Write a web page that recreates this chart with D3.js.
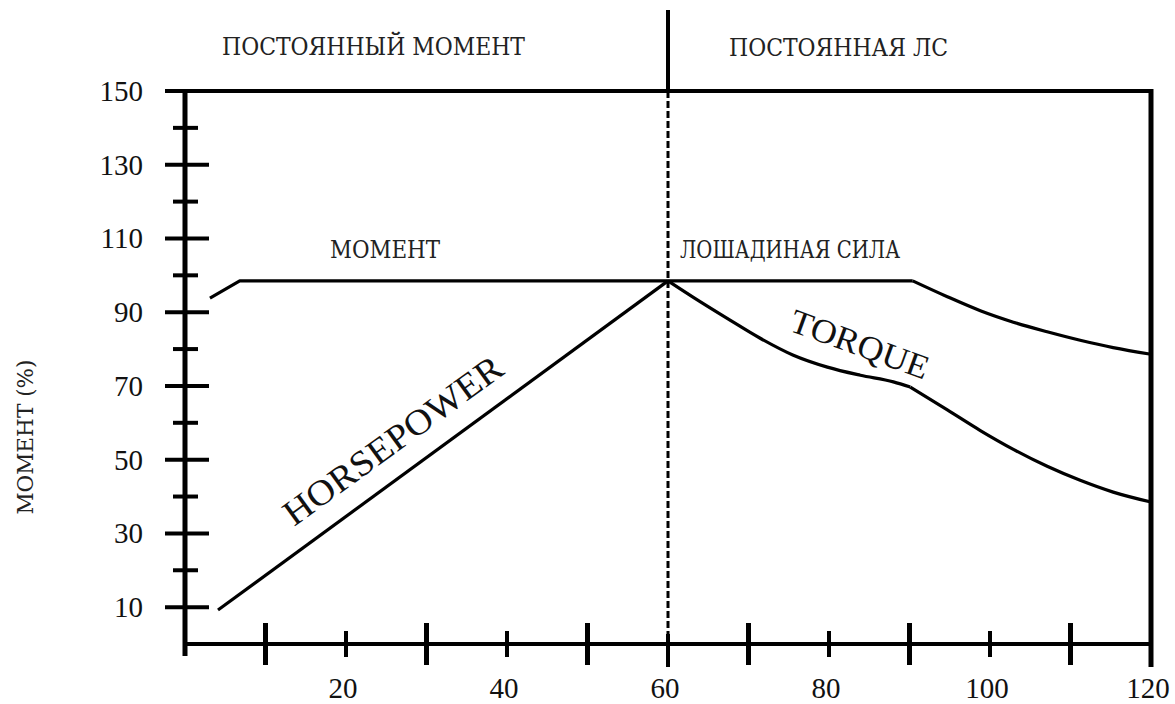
<!DOCTYPE html>
<html>
<head>
<meta charset="utf-8">
<script src="https://cdn.jsdelivr.net/npm/d3@7"></script>
<style>
  html, body { margin: 0; padding: 0; background: #fff; }
  svg { display: block; }
</style>
</head>
<body>
<svg id="chart" width="1175" height="704"></svg>
<script>
// ---- data ----
const xTickValues = [10, 20, 30, 40, 50, 60, 70, 80, 90, 100, 110, 120];
const xTickLabels = [20, 40, 60, 80, 100, 120];
const yTickValues = [10, 20, 30, 40, 50, 60, 70, 80, 90, 100, 110, 120, 130, 140];
const yTickLabels = [10, 30, 50, 70, 90, 110, 130, 150];
// upper line: flat section (constant torque region + constant power up to 90%)
const upperFlat = [[3.1, 93.8], [6.8, 98.5], [90.4, 98.5]];
const upperTail = [[90.4, 98.5], [94.7, 94.2], [98.8, 90.4], [102.9, 87.3], [107.1, 84.7], [111.2, 82.4], [115.3, 80.4], [120, 78.6]];
// horsepower rising line
const hpRise = [[4.1, 9.2], [60, 98.5]];
// torque falling curve beyond base speed
const torqueFallA = [[60, 98.5], [63.1, 94.1], [67.3, 88.4], [71.4, 83.0], [75.5, 78.4], [79.8, 75.1], [83.9, 72.9], [88.0, 71.1], [90.1, 69.7]];
const torqueFallB = [[90.1, 69.7], [94.7, 63.5], [98.8, 57.9], [102.9, 52.8], [107.1, 48.2], [111.2, 44.4], [115.3, 41.2], [120, 38.5]];
const baseSpeed = 60;
const regionLabels = ["ПОСТОЯННЫЙ МОМЕНТ", "ПОСТОЯННАЯ ЛС"];
const lineLabels = ["МОМЕНТ", "ЛОШАДИНАЯ СИЛА"];
const curveLabels = ["HORSEPOWER", "TORQUE"];
const yAxisTitle = "МОМЕНТ (%)";

// ---- scales ----
const x = d3.scaleLinear().domain([0, 120]).range([185, 1151]);
const y = d3.scaleLinear().domain([0, 150]).range([644, 91]);

const svg = d3.select("#chart");
const serif = "'Liberation Serif', 'Times New Roman', serif";
const slab = "'DejaVu Serif', 'Liberation Serif', serif";

// ---- frame ----
svg.append("line").attr("x1", 165).attr("x2", x(120) + 2).attr("y1", y(150)).attr("y2", y(150))
  .attr("stroke", "#000").attr("stroke-width", 4);
svg.append("line").attr("x1", x(120)).attr("x2", x(120)).attr("y1", y(150) - 2).attr("y2", 667)
  .attr("stroke", "#000").attr("stroke-width", 5);
svg.append("line").attr("x1", x(0)).attr("x2", x(0)).attr("y1", y(150) - 2).attr("y2", 656)
  .attr("stroke", "#000").attr("stroke-width", 5);
svg.append("line").attr("x1", x(0)).attr("x2", x(120)).attr("y1", y(0)).attr("y2", y(0))
  .attr("stroke", "#000").attr("stroke-width", 4);

// ---- y ticks ----
svg.selectAll(".yt").data(yTickValues).enter().append("line")
  .attr("x1", d => (d % 20 === 10) ? x(0) - 20 : x(0) - 12)
  .attr("x2", d => (d % 20 === 10) ? x(0) + 24 : x(0) + 13)
  .attr("y1", d => y(d)).attr("y2", d => y(d))
  .attr("stroke", "#000").attr("stroke-width", 4);

svg.selectAll(".yl").data(yTickLabels).enter().append("text")
  .attr("x", 143).attr("y", d => y(d) + 10)
  .attr("text-anchor", "end")
  .attr("font-family", serif).attr("font-size", 29)
  .attr("fill", "#111")
  .text(d => d);

// ---- x ticks ----
svg.selectAll(".xt").data(xTickValues.filter(d => d !== 120)).enter().append("line")
  .attr("x1", d => x(d)).attr("x2", d => x(d))
  .attr("y1", d => d === baseSpeed ? y(0) - 10 : (d % 20 === 10 ? y(0) - 21 : y(0) - 13))
  .attr("y2", d => d === baseSpeed ? 667 : (d % 20 === 10 ? y(0) + 21 : y(0) + 13))
  .attr("stroke", "#000").attr("stroke-width", d => d % 20 === 10 ? 5 : 4);

svg.selectAll(".xl").data(xTickLabels).enter().append("text")
  .attr("x", d => x(d) - 3).attr("y", 698)
  .attr("text-anchor", "middle")
  .attr("font-family", serif).attr("font-size", 29)
  .attr("fill", "#111")
  .text(d => d);

// ---- base speed divider ----
svg.append("line").attr("x1", x(baseSpeed)).attr("x2", x(baseSpeed)).attr("y1", 10).attr("y2", y(150))
  .attr("stroke", "#000").attr("stroke-width", 4);
svg.append("line").attr("x1", x(baseSpeed)).attr("x2", x(baseSpeed)).attr("y1", y(150)).attr("y2", y(0))
  .attr("stroke", "#000").attr("stroke-width", 3).attr("stroke-dasharray", "7,3");

// ---- curves ----
const lineLin = d3.line().x(d => x(d[0])).y(d => y(d[1]));
const lineSmooth = d3.line().x(d => x(d[0])).y(d => y(d[1])).curve(d3.curveMonotoneX);

[ [upperFlat, lineLin], [upperTail, lineSmooth], [hpRise, lineLin], [torqueFallA, lineSmooth], [torqueFallB, lineSmooth] ]
  .forEach(([data, gen]) => {
    svg.append("path").attr("d", gen(data))
      .attr("fill", "none").attr("stroke", "#000").attr("stroke-width", 3.2)
      .attr("stroke-linejoin", "round").attr("stroke-linecap", "butt");
  });

// ---- labels ----
function slabText(txt, xPos, yPos, len, size) {
  svg.append("text").attr("x", xPos).attr("y", yPos)
    .attr("font-family", slab).attr("font-size", size)
    .attr("fill", "#222")
    .attr("textLength", len).attr("lengthAdjust", "spacingAndGlyphs")
    .text(txt);
}
slabText(regionLabels[0], 222, 55, 303, 24);
slabText(regionLabels[1], 729, 56, 219, 24);
slabText(lineLabels[0], 330, 258, 110, 24);
slabText(lineLabels[1], 680, 258, 220, 24);

// y axis title
svg.append("text")
  .attr("transform", "translate(33,437) rotate(-90)")
  .attr("text-anchor", "middle")
  .attr("font-family", slab).attr("font-size", 23)
  .attr("fill", "#222")
  .attr("textLength", 155).attr("lengthAdjust", "spacingAndGlyphs")
  .text(yAxisTitle);

// curve labels
svg.append("text")
  .attr("transform", "translate(400,450) rotate(-36)")
  .attr("text-anchor", "middle")
  .attr("font-family", serif).attr("font-size", 36)
  .attr("fill", "#111")
  .attr("textLength", 262).attr("lengthAdjust", "spacingAndGlyphs")
  .text(curveLabels[0]);

svg.append("text")
  .attr("transform", "translate(856,355) rotate(20)")
  .attr("text-anchor", "middle")
  .attr("font-family", serif).attr("font-size", 34)
  .attr("fill", "#111")
  .attr("textLength", 145).attr("lengthAdjust", "spacingAndGlyphs")
  .text(curveLabels[1]);
</script>
</body>
</html>
